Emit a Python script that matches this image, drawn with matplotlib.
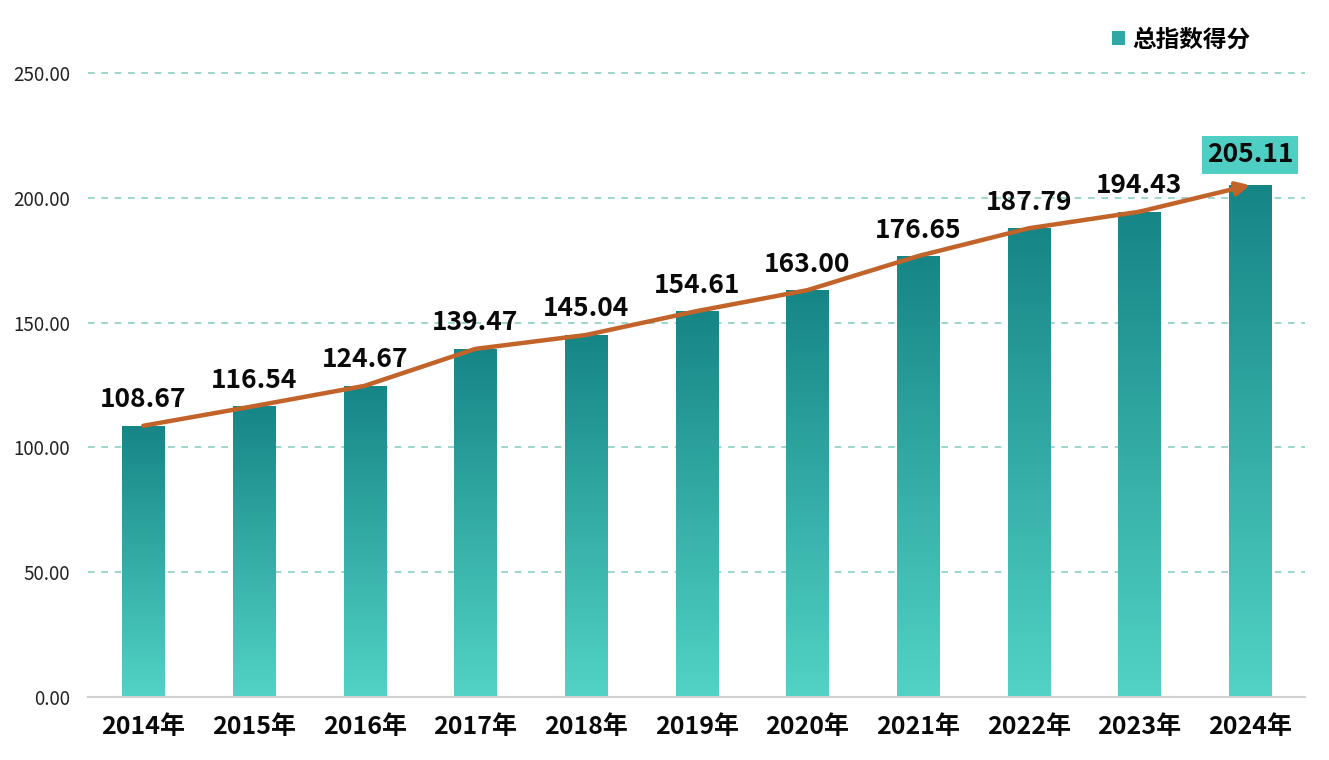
import matplotlib
matplotlib.use("Agg")
import matplotlib.pyplot as plt
import numpy as np
from matplotlib.patches import Patch
from matplotlib.colors import LinearSegmentedColormap

plt.rcParams['font.family'] = ['Noto Sans CJK SC', 'DejaVu Sans']

years = ["2014年", "2015年", "2016年", "2017年", "2018年", "2019年",
         "2020年", "2021年", "2022年", "2023年", "2024年"]
scores = [108.67, 116.54, 124.67, 139.47, 145.04, 154.61,
          163.00, 176.65, 187.79, 194.43, 205.11]
yticks = [0, 50, 100, 150, 200, 250]
legend_label = "总指数得分"

fig = plt.figure(figsize=(13.29, 7.6), dpi=100)
ax = fig.add_axes([0.0662, 0.0829, 0.916, 0.821])

x = np.arange(len(years))
bar_w = 0.38
bars = ax.bar(x, scores, width=bar_w, color='none', edgecolor='none', zorder=2)

cmap = LinearSegmentedColormap.from_list("teal", ["#52D3C5", "#168586"])
grad = np.linspace(0, 1, 256).reshape(-1, 1)
for b in bars:
    x0, y0 = b.get_x(), b.get_y()
    w, h = b.get_width(), b.get_height()
    im = ax.imshow(grad, cmap=cmap, origin='lower', aspect='auto',
                   extent=[x0, x0 + w, y0, y0 + h], zorder=2)
    im.set_clip_path(b)

ax.set_xlim(-0.5, len(years) - 0.5)
ax.set_ylim(0, 250)

# trend line with arrow
line_color = "#C2632A"
ax.plot(x[:-1], scores[:-1], color=line_color, lw=3.2, solid_capstyle='round',
        solid_joinstyle='round', zorder=4)
ax.annotate("", xy=(x[-1], scores[-1]), xytext=(x[-2], scores[-2]),
            arrowprops=dict(arrowstyle="-|>,head_length=0.8,head_width=0.4",
                            color=line_color, lw=3.2, shrinkA=0, shrinkB=0),
            zorder=4)

# value labels
for i, v in enumerate(scores):
    kw = {}
    if i == len(scores) - 1:
        kw['bbox'] = dict(boxstyle='square,pad=0.2', fc='#4FCFC3', ec='none')
        off = 12
    else:
        off = 9
    ax.annotate(f"{v:.2f}", xy=(x[i], v), xytext=(0, off), textcoords='offset points',
                ha='center', va='bottom', fontsize=19, fontweight='heavy',
                color='#0A0A0A', zorder=5, **kw)

ax.set_yticks(yticks)
ax.set_yticklabels([f"{t:.2f}" for t in yticks], fontsize=13.5, color='#222222')
ax.set_xticks(x)
ax.set_xticklabels(years, fontsize=18, fontweight='heavy', color='#0A0A0A')
ax.tick_params(axis='both', length=0)
ax.tick_params(axis='x', pad=13)
ax.tick_params(axis='y', pad=13)

for t in yticks[1:]:
    ax.axhline(t, color='#8ACFC3', lw=1.2, ls=(0, (4, 4)), zorder=1, clip_on=False)

for s in ['top', 'right', 'left']:
    ax.spines[s].set_visible(False)
ax.spines['bottom'].set_color('#D0D0D0')
ax.spines['bottom'].set_linewidth(1.5)

handle = Patch(facecolor='#2FA8A3', edgecolor='none')
leg = fig.legend([handle], [legend_label], loc='center right',
                 bbox_to_anchor=(0.957, 0.948), frameon=False,
                 prop=dict(size=17, weight='heavy'), handlelength=0.55,
                 handleheight=0.55, handletextpad=0.3)

fig.savefig("out.png", dpi=100)
